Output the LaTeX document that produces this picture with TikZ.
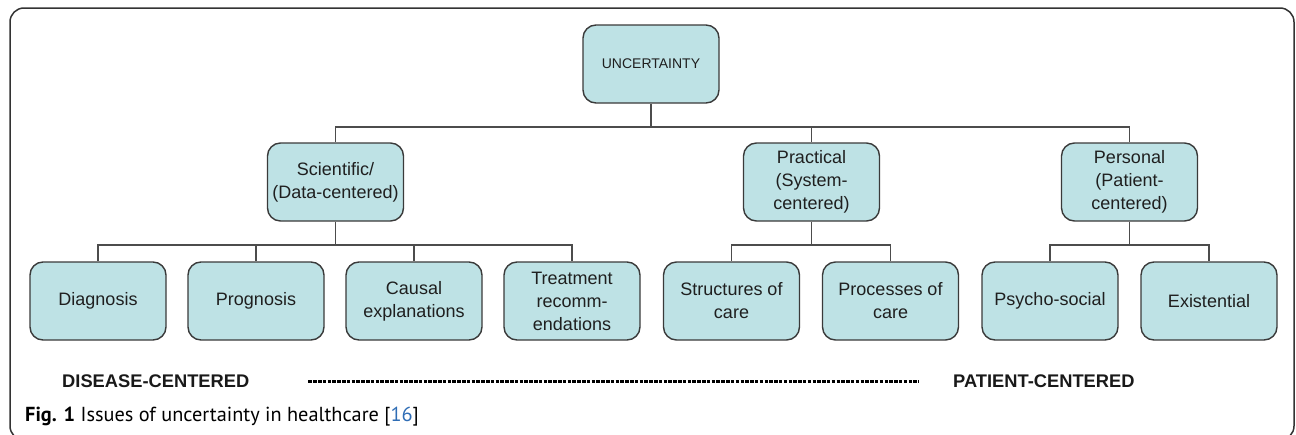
\documentclass[tikz,border=0pt]{standalone}
\usepackage{fontspec}
\setmainfont{Liberation Sans}
\newfontfamily\capfont{PT Sans}
\definecolor{boxfill}{HTML}{BEE2E5}
\definecolor{boxline}{HTML}{3A3A3A}
\definecolor{reflink}{HTML}{2F6DB5}

\tikzstyle{category} = [draw=boxline,line width=1.4pt,fill=boxfill,rounded corners=13pt,minimum width=136pt,minimum height=78pt,inner sep=2pt,align=center,text=black!88,font=\fontsize{18}{23}\selectfont]
\tikzstyle{branch} = [draw=black!70,line width=1.4pt]
\tikzstyle{pole} = [inner sep=0pt,anchor=west,text=black!90,font=\bfseries\fontsize{18.3}{20}\selectfont]

\begin{document}
\begin{tikzpicture}[x=1pt,y=-1pt]
	\clip (0,0) rectangle (1296,434);
	\draw[line width=1.5pt,black!80,rounded corners=14pt] (10,8) rectangle (1294,440);

	\node[category,font=\fontsize{14}{17}\selectfont] (unc) at (651,64) {UNCERTAINTY};
	\node[category] (sci) at (335.5,182) {Scientific/\\(Data-centered)};
	\node[category] (prac) at (811.5,182) {Practical\\(System-\\centered)};
	\node[category] (pers) at (1129.5,182) {Personal\\(Patient-\\centered)};

	\node[category] (diag) at (98,301) {Diagnosis};
	\node[category] (prog) at (256,301) {Prognosis};
	\node[category] (caus) at (414,301) {Causal\\explanations};
	\node[category] (treat) at (572,301) {Treatment\\recomm-\\endations};
	\node[category] (struct) at (731.5,301) {Structures of\\care};
	\node[category] (proc) at (890.5,301) {Processes of\\care};
	\node[category] (psych) at (1050,301) {Psycho-social};
	\node[category] (exist) at (1209,301) {Existential};

	\coordinate (top) at (651,127);
	\draw[branch] (unc) -- (top);
	\draw[branch] (top) -| (sci);
	\draw[branch] (top) -| (prac);
	\draw[branch] (top) -| (pers);

	\coordinate (scij) at (335.5,245);
	\draw[branch] (sci) -- (scij);
	\draw[branch] (scij) -| (diag);
	\draw[branch] (scij) -| (prog);
	\draw[branch] (scij) -| (caus);
	\draw[branch] (scij) -| (treat);

	\coordinate (pracj) at (811.5,245);
	\draw[branch] (prac) -- (pracj);
	\draw[branch] (pracj) -| (struct);
	\draw[branch] (pracj) -| (proc);

	\coordinate (persj) at (1129.5,245);
	\draw[branch] (pers) -- (persj);
	\draw[branch] (persj) -| (psych);
	\draw[branch] (persj) -| (exist);

	\node[pole] (dis) at (62,381.5) {DISEASE-CENTERED};
	\node[pole] (pat) at (953,381.5) {PATIENT-CENTERED};
	\draw[black,line width=2.8pt,dash pattern=on 3.5pt off 1.3pt] ([xshift=59pt]dis.east) -- ([xshift=-34pt]pat.west);

	\node[anchor=base west,inner sep=0pt,font=\capfont\fontsize{20.3}{22}\selectfont] (cap) at (25,421.5) {\textbf{Fig. 1} Issues of uncertainty in healthcare [\textcolor{reflink}{16}]};
\end{tikzpicture}
\end{document}
